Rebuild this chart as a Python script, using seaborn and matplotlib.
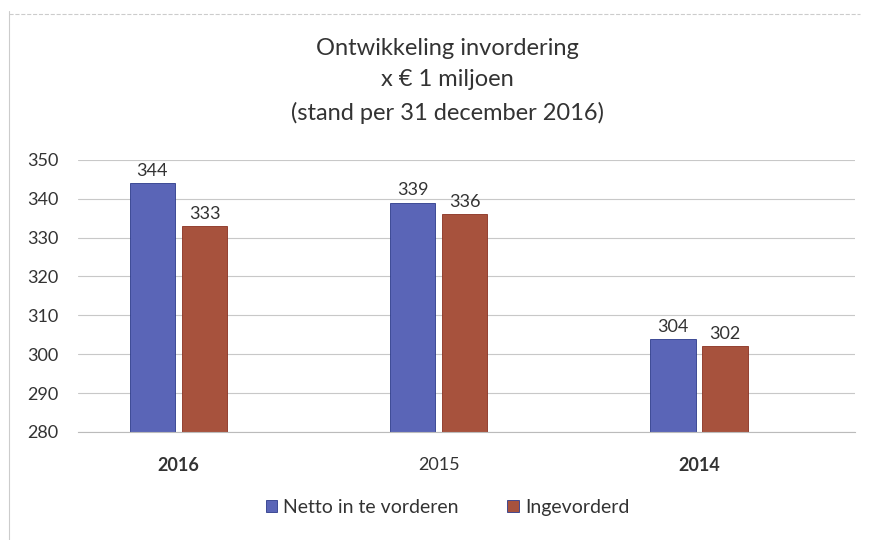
import pandas as pd
import matplotlib.pyplot as plt
import seaborn as sns

# Data
years = ["2016", "2015", "2014"]
netto = [344, 339, 304]
ingevorderd = [333, 336, 302]
series = ["Netto in te vorderen", "Ingevorderd"]

df = pd.DataFrame({
    "jaar": years * 2,
    "waarde": netto + ingevorderd,
    "reeks": [series[0]] * 3 + [series[1]] * 3,
})

sns.set_style("white")
plt.rcParams["font.family"] = ["Lato", "DejaVu Sans"]

fig = plt.figure(figsize=(8.69, 5.4), dpi=100)
ax = fig.add_axes([0.09, 0.2, 0.894, 0.504])

sns.barplot(
    data=df, x="jaar", y="waarde", hue="reeks", order=years,
    hue_order=series,
    palette={series[0]: "#4a5ac6", series[1]: "#b8472c"},
    width=0.4, gap=0.13, edgecolor="#2c3a8a", linewidth=0.6,
    ax=ax, legend=True,
)
# red bars get their own darker edge
for patch in ax.patches[3:6]:
    patch.set_edgecolor("#8a3020")

# value labels
for cont in ax.containers:
    ax.bar_label(cont, fmt="%d", padding=3, fontsize=13, color="#333333")

ax.set_ylim(280, 350)
ax.set_yticks(range(280, 351, 10))
ax.set_xlim(-0.385, 2.6)
ax.yaxis.grid(True, color="#c8c8c8", linewidth=0.8)
ax.set_axisbelow(True)
for s in ["top", "right", "left"]:
    ax.spines[s].set_visible(False)
ax.spines["bottom"].set_color("#bbbbbb")
ax.set_xlabel("")
ax.set_ylabel("")
ax.tick_params(axis="both", length=0, labelsize=13, colors="#333333")
ax.tick_params(axis="y", pad=14)
ax.tick_params(axis="x", pad=18)
for lab in ax.get_xticklabels():
    if lab.get_text() != "2015":
        lab.set_fontweight("bold")

title_kw = dict(ha="center", va="center", fontsize=17, color="#333333")
fig.text(0.515, 0.91, "Ontwikkeling invordering", **title_kw)
fig.text(0.515, 0.852, "x € 1 miljoen", **title_kw)
fig.text(0.515, 0.79, "(stand per 31 december 2016)", **title_kw)

ax.legend(
    loc="center", bbox_to_anchor=(0.515, 0.06), bbox_transform=fig.transFigure,
    ncol=2, frameon=False, fontsize=14, handlelength=0.6, handleheight=0.6,
    columnspacing=2.5, handletextpad=0.3, labelcolor="#333333",
)

# faint chart frame
fig.add_artist(plt.Line2D([0.01, 0.01], [0.0, 0.98], color="#cccccc", lw=0.8))
fig.add_artist(plt.Line2D([0.01, 0.99], [0.975, 0.975], color="#cccccc", lw=0.8, ls="--"))

fig.savefig("out.png", dpi=100)
